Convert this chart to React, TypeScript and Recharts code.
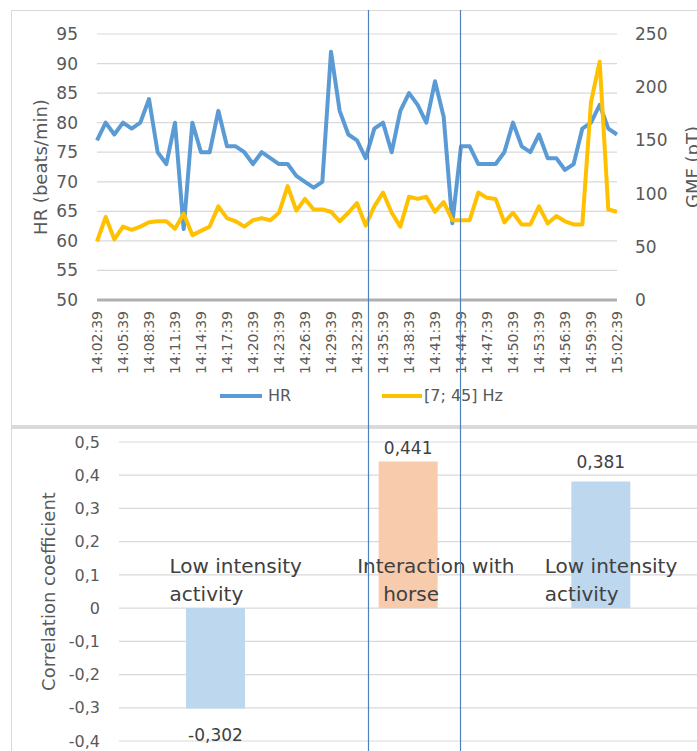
import React from 'react';
import {
  LineChart, Line, XAxis, YAxis, CartesianGrid, Legend, Label,
  BarChart, Bar, Cell, LabelList,
} from 'recharts';

// one sample per minute
const TIMES = [
  '14:02:39', '14:03:39', '14:04:39', '14:05:39', '14:06:39', '14:07:39', '14:08:39', '14:09:39',
  '14:10:39', '14:11:39', '14:12:39', '14:13:39', '14:14:39', '14:15:39', '14:16:39', '14:17:39',
  '14:18:39', '14:19:39', '14:20:39', '14:21:39', '14:22:39', '14:23:39', '14:24:39', '14:25:39',
  '14:26:39', '14:27:39', '14:28:39', '14:29:39', '14:30:39', '14:31:39', '14:32:39', '14:33:39',
  '14:34:39', '14:35:39', '14:36:39', '14:37:39', '14:38:39', '14:39:39', '14:40:39', '14:41:39',
  '14:42:39', '14:43:39', '14:44:39', '14:45:39', '14:46:39', '14:47:39', '14:48:39', '14:49:39',
  '14:50:39', '14:51:39', '14:52:39', '14:53:39', '14:54:39', '14:55:39', '14:56:39', '14:57:39',
  '14:58:39', '14:59:39', '15:00:39', '15:01:39', '15:02:39',
];

// heart rate, beats/min
const HR = [
  77, 80, 78, 80, 79, 80, 84, 75, 73, 80,
  62, 80, 75, 75, 82, 76, 76, 75, 73, 75,
  74, 73, 73, 71, 70, 69, 70, 92, 82, 78,
  77, 74, 79, 80, 75, 82, 85, 83, 80, 87,
  81, 63, 76, 76, 73, 73, 73, 75, 80, 76,
  75, 78, 74, 74, 72, 73, 79, 80, 83, 79,
  78,
];

// [7; 45] Hz band, pT
const GMF = [
  55, 78, 57, 69, 66, 69, 73, 74, 74, 67,
  81, 61, 65, 69, 88, 77, 74, 69, 75, 77,
  75, 82, 107, 84, 95, 85, 85, 83, 74, 82,
  91, 70, 88, 101, 82, 69, 97, 95, 97, 83,
  92, 75, 75, 75, 101, 96, 95, 73, 82, 71,
  71, 88, 72, 79, 74, 71, 71, 186, 224, 85,
  83,
];

const HR_TICKS = [50, 55, 60, 65, 70, 75, 80, 85, 90, 95];
const GMF_TICKS = [0, 50, 100, 150, 200, 250];

const ACTIVITIES = [
  ['Low intensity', 'activity'],
  ['Interaction with', 'horse'],
  ['Low intensity', 'activity'],
];
const CORRELATION = [-0.302, 0.441, 0.381];
const CORR_TICKS = [-0.4, -0.3, -0.2, -0.1, 0, 0.1, 0.2, 0.3, 0.4, 0.5];

const FONT = '"DejaVu Sans", sans-serif';
const TEXT = '#595959';
const DARK = '#404040';
const GRID = '#d9d9d9';
const BLUE = '#5b9bd5';
const GOLD = '#ffc000';
const MARKER = '#4f81bd';
const BAR_FILLS = ['#bdd7ee', '#f8cbad', '#bdd7ee'];

// caption start, relative to the bar centre (first / second line)
const CAPTION_DX = [[-46, -46], [-51, -25], [-56, -56]];
// value label baseline, measured from the end of the bar
const VALUE_DY = [33, -8, -14];

const lineRows = TIMES.map((t, i) => ({ t, hr: HR[i], gmf: GMF[i] }));
const barRows = CORRELATION.map((r, i) => ({ idx: i, name: ACTIVITIES[i].join(' '), r }));

const comma = (v: number, digits: number) => (v === 0 ? '0' : v.toFixed(digits).replace('.', ','));

const TimeTick = ({ x, y, payload }: any) => (
  <text
    x={x}
    y={y}
    transform={`rotate(-90 ${x} ${y})`}
    textAnchor="end"
    dominantBaseline="central"
    fontSize={14}
    fontFamily={FONT}
    fill={TEXT}
  >
    {payload.value}
  </text>
);

const barEnds = (p: any) => {
  const vb = p.viewBox && p.viewBox.width !== undefined ? p.viewBox : p;
  const y = Number(vb.y);
  const h = Number(vb.height);
  return { cx: Number(vb.x) + Number(vb.width) / 2, top: Math.min(y, y + h), bottom: Math.max(y, y + h) };
};

const renderCaption = (p: any) => {
  const i = Number(p.value);
  const { cx, top, bottom } = barEnds(p);
  const zero = CORRELATION[i] >= 0 ? bottom : top;
  const [l1, l2] = ACTIVITIES[i];
  return (
    <g key={`cap-${i}`} fontFamily={FONT} fontSize={20} fill={DARK}>
      <text x={cx + CAPTION_DX[i][0]} y={zero - 35}>{l1}</text>
      <text x={cx + CAPTION_DX[i][1]} y={zero - 7}>{l2}</text>
    </g>
  );
};

const renderValue = (p: any) => {
  const i = Number(p.index);
  const v = Number(p.value);
  const { cx, top, bottom } = barEnds(p);
  const end = v >= 0 ? top : bottom;
  return (
    <text key={`val-${i}`} x={cx} y={end + VALUE_DY[i]} textAnchor="middle" fontFamily={FONT} fontSize={17} fill={DARK}>
      {comma(v, 3)}
    </text>
  );
};

const SeriesLegend = () => (
  <div style={{ position: 'relative', width: 697, height: 20, fontFamily: FONT, fontSize: 16, color: TEXT }}>
    <div style={{ position: 'absolute', left: 220, top: 8, width: 42, height: 4, background: BLUE }} />
    <span style={{ position: 'absolute', left: 268, top: 0, lineHeight: '20px' }}>HR</span>
    <div style={{ position: 'absolute', left: 382, top: 8, width: 40, height: 4, background: GOLD }} />
    <span style={{ position: 'absolute', left: 424, top: 0, lineHeight: '20px', whiteSpace: 'nowrap' }}>[7; 45] Hz</span>
  </div>
);

const tickStyle = { fontSize: 17, fontFamily: FONT, fill: TEXT };

export default function App() {
  return (
    <div style={{ position: 'absolute', left: 0, top: 0, width: 697, height: 751, overflow: 'hidden', background: '#fff', fontFamily: FONT }}>
      <div style={{ position: 'absolute', left: 11, top: 10, width: 700, height: 414, border: `1px solid ${GRID}` }} />
      <div style={{ position: 'absolute', left: 11, top: 425, width: 700, height: 340, borderTop: '4px solid #dadada', borderLeft: `1px solid ${GRID}` }} />

      <div style={{ position: 'absolute', left: 0, top: 0 }}>
        <LineChart width={697} height={425} data={lineRows} margin={{ top: 34, right: 0, bottom: 0, left: 0 }}>
          <CartesianGrid yAxisId="hr" vertical={false} stroke={GRID} strokeWidth={1.2} />
          <XAxis
            dataKey="t"
            interval={2}
            height={105}
            tickLine={false}
            tickSize={0}
            tickMargin={11}
            axisLine={{ stroke: '#b0b0b0', strokeWidth: 3 }}
            tick={<TimeTick />}
          />
          <YAxis
            yAxisId="hr"
            domain={[50, 95]}
            ticks={HR_TICKS}
            interval={0}
            width={97}
            axisLine={false}
            tickLine={false}
            tickSize={0}
            tickMargin={19}
            tick={tickStyle}
          >
            <Label value="HR (beats/min)" angle={-90} position="center" dx={-8} style={{ fontSize: 18, fontFamily: FONT, fill: TEXT }} />
          </YAxis>
          <YAxis
            yAxisId="gmf"
            orientation="right"
            domain={[0, 250]}
            ticks={GMF_TICKS}
            interval={0}
            width={80}
            axisLine={false}
            tickLine={false}
            tickSize={0}
            tickMargin={18}
            tick={{ ...tickStyle, textAnchor: 'start' }}
          >
            <Label value="GMF (pT)" angle={-90} position="center" dx={36} style={{ fontSize: 18, fontFamily: FONT, fill: TEXT }} />
          </YAxis>
          <Legend verticalAlign="bottom" wrapperStyle={{ top: 386, left: 0, width: 697 }} content={() => <SeriesLegend />} />
          <Line yAxisId="hr" dataKey="hr" name="HR" stroke={BLUE} strokeWidth={4} dot={false} isAnimationActive={false} strokeLinejoin="round" />
          <Line yAxisId="gmf" dataKey="gmf" name="[7; 45] Hz" stroke={GOLD} strokeWidth={4} dot={false} isAnimationActive={false} strokeLinejoin="round" />
        </LineChart>
      </div>

      <div style={{ position: 'absolute', left: 0, top: 429 }}>
        <BarChart width={697} height={322} data={barRows} margin={{ top: 13, right: 0, bottom: 10, left: 0 }}>
          <CartesianGrid vertical={false} stroke={GRID} strokeWidth={1.2} />
          <XAxis dataKey="name" hide />
          <YAxis
            domain={[-0.4, 0.5]}
            ticks={CORR_TICKS}
            interval={0}
            width={119}
            axisLine={false}
            tickLine={false}
            tickSize={0}
            tickMargin={19}
            tick={{ ...tickStyle, fontSize: 16 }}
            tickFormatter={(v: number) => comma(v, 1)}
          >
            <Label value="Correlation coefficient" angle={-90} position="center" dx={-11} style={{ fontSize: 18, fontFamily: FONT, fill: TEXT }} />
          </YAxis>
          <Bar dataKey="r" barSize={59} isAnimationActive={false}>
            {barRows.map((row) => (
              <Cell key={row.idx} fill={BAR_FILLS[row.idx]} />
            ))}
            <LabelList dataKey="idx" content={renderCaption} />
            <LabelList dataKey="r" content={renderValue} />
          </Bar>
        </BarChart>
      </div>

      {/* interval markers running through both panels */}
      <svg width={697} height={751} style={{ position: 'absolute', left: 0, top: 0, pointerEvents: 'none' }}>
        <line x1={368.5} y1={10} x2={368.5} y2={751} stroke={MARKER} strokeWidth={1.2} />
        <line x1={460.5} y1={10} x2={460.5} y2={751} stroke={MARKER} strokeWidth={1.2} />
      </svg>
    </div>
  );
}
